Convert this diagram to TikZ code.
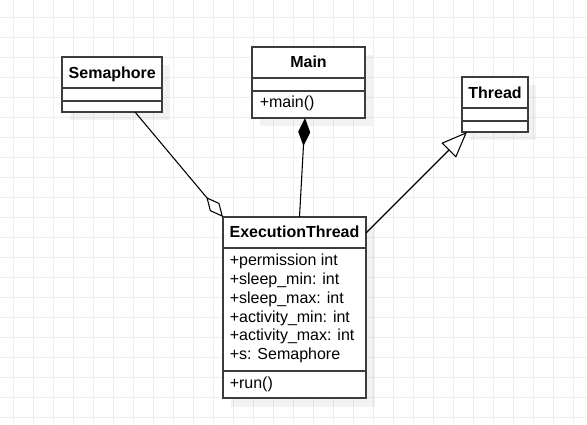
\documentclass[tikz,border=0pt]{standalone}
\usepackage{fontspec}
\setmainfont{Liberation Sans}
\usetikzlibrary{arrows.meta,calc}
\definecolor{gridc}{HTML}{EEEEEE}
\definecolor{boxc}{HTML}{3C3C3C}
\begin{document}
\begin{tikzpicture}[x=0.75pt,y=-0.75pt,
  umlbox/.style={draw=boxc, line width=1.4pt, fill=white, inner sep=0pt, outer sep=0pt, anchor=north west},
  shade/.style={fill=black, fill opacity=0.05, draw=none},
  sep/.style={draw=boxc, line width=1.4pt},
  ttl/.style={font=\fontsize{12}{14}\selectfont\bfseries, anchor=base, inner sep=0pt},
  mem/.style={font=\fontsize{12}{14}\selectfont, anchor=base west, inner sep=0pt},
  conn/.style={draw=black, line width=0.8pt}
]
\useasboundingbox (0,0) rectangle (587,425);
\fill[white] (0,0) rectangle (587,425);
\foreach \i in {0,...,28} \draw[gridc, line width=0.75pt] (13.3+20*\i,0) -- (13.3+20*\i,425);
\foreach \j in {0,...,20} \draw[gridc, line width=0.75pt] (0,17.3+20*\j) -- (587,17.3+20*\j);

% shadows
\fill[shade] (70,65) rectangle (170,120);
\fill[shade] (260,55) rectangle (373,126);
\fill[shade] (470,85) rectangle (536,140);
\fill[shade] (231,225) rectangle (375,407);

% boxes
\node[umlbox, minimum width=75pt, minimum height=41.25pt] (sem) at (62,57) {};
\node[umlbox, minimum width=84.75pt, minimum height=53.25pt] (main) at (252,47) {};
\node[umlbox, minimum width=49.5pt, minimum height=41.25pt] (thr) at (462,77) {};
\node[umlbox, minimum width=107.25pt, minimum height=135.75pt] (et) at (223,217) {};

% separators
\draw[sep] ($(sem.north west)+(0,31.3)$) -- ($(sem.north east)+(0,31.3)$);
\draw[sep] ($(sem.north west)+(0,43.7)$) -- ($(sem.north east)+(0,43.7)$);
\draw[sep] ($(main.north west)+(0,31.3)$) -- ($(main.north east)+(0,31.3)$);
\draw[sep] ($(main.north west)+(0,43.7)$) -- ($(main.north east)+(0,43.7)$);
\draw[sep] ($(thr.north west)+(0,31.3)$) -- ($(thr.north east)+(0,31.3)$);
\draw[sep] ($(thr.north west)+(0,43.7)$) -- ($(thr.north east)+(0,43.7)$);
\draw[sep] ($(et.north west)+(0,31.3)$) -- ($(et.north east)+(0,31.3)$);
\draw[sep] ($(et.north west)+(0,154)$) -- ($(et.north east)+(0,154)$);

% titles
\node[ttl] (semT) at (112.3,78.3) {Semaphore};
\node[ttl] (mainT) at (308.5,67.8) {Main};
\node[ttl] (thrT) at (495,98.3) {Thread};
\node[ttl] (etT) at (294.5,237.8) {ExecutionThread};

% members
\node[mem] (mainM) at (259.5,107.5) {+main()};
\node[mem] (a1) at (229.5,265.7) {+permission int};
\node[mem] (a2) at (229.5,284.5) {+sleep\_min: int};
\node[mem] (a3) at (229.5,303.3) {+sleep\_max: int};
\node[mem] (a4) at (229.5,322.1) {+activity\_min: int};
\node[mem] (a5) at (229.5,340.9) {+activity\_max: int};
\node[mem] (a6) at (229.5,359.7) {+s: Semaphore};
\node[mem] (m1) at (229.5,388.6) {+run()};

% connectors
\draw[conn, -{Diamond[open, fill=white, length=19.5pt, width=9.3pt]}] ($(sem.south west)+(73,0)$) -- (et.north west);
\draw[conn, {Diamond[length=21pt, width=9pt]}-] ($(main.south)+(-3.5,0)$) -- ($(et.north)+(5,0)$);
\draw[conn, {Triangle[open, fill=white, length=19.4pt, width=15.4pt]}-] ($(thr.south west)+(5,0)$) -- ($(et.north east)+(0,16)$);
\end{tikzpicture}
\end{document}
